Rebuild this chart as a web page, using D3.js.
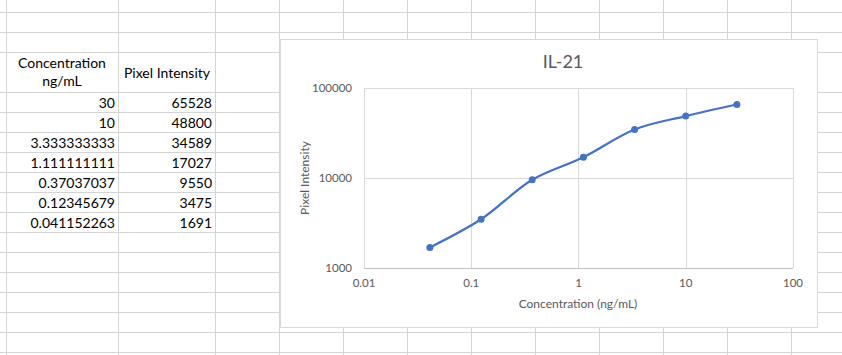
<!DOCTYPE html>
<html><head><meta charset="utf-8">
<script src="https://cdn.jsdelivr.net/npm/d3@7/dist/d3.min.js"></script>
<style>
html,body{margin:0;padding:0;background:#fff;}
svg{display:block;}
text{font-family:Lato,"Open Sans",sans-serif;}
</style></head>
<body>
<script>
// ---- data ----
const concentrationLabels = ["30","10","3.333333333","1.111111111","0.37037037","0.12345679","0.041152263"];
const concentration = [30,10,3.333333333,1.111111111,0.37037037,0.12345679,0.041152263];
const intensity = [65528,48800,34589,17027,9550,3475,1691];
const xTicks = [0.01,0.1,1,10,100];
const yTicks = [1000,10000,100000];
const chartTitle = "IL-21";
const xTitle = "Concentration (ng/mL)";
const yTitle = "Pixel Intensity";
const headerA = ["Concentration","ng/mL"];
const headerB = "Pixel Intensity";

const W=842,H=355;
const svg=d3.select("body").append("svg").attr("width",W).attr("height",H);

// ---- spreadsheet grid ----
const gridColor="#d4d4d4";
const colX=[6,118,215];
for(let x=279;x<W;x+=64) colX.push(x);
const rowY=[12,32,52];
for(let y=92;y<H;y+=20) rowY.push(y);
const g0=svg.append("g").attr("shape-rendering","crispEdges");
colX.forEach(x=>g0.append("line").attr("x1",x+0.5).attr("x2",x+0.5).attr("y1",0).attr("y2",H).attr("stroke",gridColor));
rowY.forEach(y=>g0.append("line").attr("x1",0).attr("x2",W).attr("y1",y+0.5).attr("y2",y+0.5).attr("stroke",gridColor));

// cell texts
const cellFont=14;
const cells=svg.append("g").attr("font-size",cellFont).attr("fill","#000");
cells.append("text").attr("x",62).attr("y",68).attr("text-anchor","middle").text(headerA[0]);
cells.append("text").attr("x",62).attr("y",86).attr("text-anchor","middle").text(headerA[1]);
cells.append("text").attr("x",167).attr("y",78).attr("text-anchor","middle").text(headerB);
concentrationLabels.forEach((c,i)=>{
  const yb=108+i*20;
  cells.append("text").attr("x",115).attr("y",yb).attr("text-anchor","end").text(c);
  cells.append("text").attr("x",212).attr("y",yb).attr("text-anchor","end").text(intensity[i]);
});

// ---- chart ----
const box={x:280,y:39,w:537,h:288};
svg.append("rect").attr("x",box.x+0.5).attr("y",box.y+0.5).attr("width",box.w).attr("height",box.h)
  .attr("fill","#fff").attr("stroke","#d9d9d9").attr("shape-rendering","crispEdges");

const pl=364,pr=793,pt=88,pb=268;
const x=d3.scaleLog().domain([0.01,100]).range([pl,pr]);
const y=d3.scaleLog().domain([1000,100000]).range([pb,pt]);

const gg=svg.append("g").attr("shape-rendering","crispEdges");
xTicks.forEach(t=>gg.append("line").attr("x1",Math.round(x(t))+0.5).attr("x2",Math.round(x(t))+0.5).attr("y1",pt).attr("y2",pb).attr("stroke","#d9d9d9"));
yTicks.forEach(t=>gg.append("line").attr("x1",pl).attr("x2",pr).attr("y1",Math.round(y(t))+0.5).attr("y2",Math.round(y(t))+0.5).attr("stroke",t===1000?"#bfbfbf":"#d9d9d9"));

const lab="#595959";
const tf=11.5;
xTicks.forEach(t=>svg.append("text").attr("x",x(t)).attr("y",287).attr("text-anchor","middle").attr("font-size",tf).attr("fill",lab).text(String(t)));
yTicks.forEach(t=>svg.append("text").attr("x",352).attr("y",y(t)+4).attr("text-anchor","end").attr("font-size",tf).attr("fill",lab).text(String(t)));

svg.append("text").attr("x",563).attr("y",68).attr("text-anchor","middle").attr("font-size",18).attr("fill",lab).text(chartTitle);
svg.append("text").attr("x",578).attr("y",308).attr("text-anchor","middle").attr("font-size",12).attr("fill",lab).text(xTitle);
svg.append("text").attr("transform","translate(309,178) rotate(-90)").attr("text-anchor","middle").attr("font-size",12).attr("fill",lab).text(yTitle);

const pts=concentration.map((c,i)=>[c,intensity[i]]).sort((a,b)=>a[0]-b[0]);
const line=d3.line().x(d=>x(d[0])).y(d=>y(d[1])).curve(d3.curveCatmullRom.alpha(0.5));
svg.append("path").attr("d",line(pts)).attr("fill","none").attr("stroke","#4472C4").attr("stroke-width",2.25).attr("stroke-linecap","round");
svg.selectAll("circle.m").data(pts).enter().append("circle").attr("cx",d=>x(d[0])).attr("cy",d=>y(d[1])).attr("r",3.5).attr("fill","#4472C4");
</script>
</body></html>
